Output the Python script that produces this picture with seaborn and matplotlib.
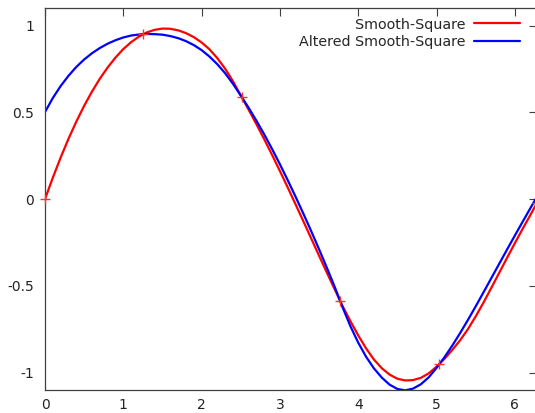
import matplotlib
matplotlib.use("Agg")
import matplotlib.pyplot as plt
from matplotlib.lines import Line2D
import numpy as np
import pandas as pd
import seaborn as sns

# ---- data ----
x_vals = [0.0, 0.1, 0.2, 0.3, 0.4, 0.5, 0.6, 0.7, 0.8, 0.9,
          1.0, 1.1, 1.2, 1.3, 1.4, 1.5, 1.6, 1.7, 1.8, 1.9,
          2.0, 2.1, 2.2, 2.3, 2.4, 2.5, 2.6, 2.7, 2.8, 2.9,
          3.0, 3.1, 3.2, 3.3, 3.4, 3.5, 3.6, 3.7, 3.8, 3.9,
          4.0, 4.1, 4.2, 4.3, 4.4, 4.5, 4.6, 4.7, 4.8, 4.9,
          5.0, 5.1, 5.2, 5.3, 5.4, 5.5, 5.6, 5.7, 5.8, 5.9,
          6.0, 6.1, 6.2, 6.283]
smooth_square = [0.000, 0.124, 0.240, 0.348, 0.447, 0.538, 0.620, 0.694, 0.759, 0.816,
                 0.865, 0.905, 0.937, 0.961, 0.976, 0.983, 0.982, 0.973, 0.957, 0.934,
                 0.903, 0.864, 0.813, 0.752, 0.680, 0.598, 0.516, 0.432, 0.345, 0.255,
                 0.162, 0.067, -0.030, -0.128, -0.227, -0.326, -0.424, -0.520, -0.616, -0.703,
                 -0.785, -0.860, -0.924, -0.974, -1.011, -1.035, -1.045, -1.043, -1.030, -1.004,
                 -0.966, -0.921, -0.870, -0.814, -0.750, -0.676, -0.596, -0.511, -0.425, -0.339,
                 -0.254, -0.171, -0.090, -0.022]
altered = [0.502, 0.583, 0.652, 0.711, 0.762, 0.805, 0.841, 0.871, 0.896, 0.916,
           0.932, 0.943, 0.949, 0.952, 0.951, 0.948, 0.940, 0.928, 0.911, 0.888,
           0.859, 0.822, 0.778, 0.726, 0.665, 0.597, 0.527, 0.452, 0.373, 0.289,
           0.201, 0.109, 0.014, -0.084, -0.185, -0.289, -0.396, -0.506, -0.623, -0.732,
           -0.827, -0.908, -0.975, -1.028, -1.069, -1.094, -1.102, -1.092, -1.067, -1.027,
           -0.973, -0.912, -0.845, -0.773, -0.697, -0.618, -0.537, -0.455, -0.373, -0.291,
           -0.210, -0.130, -0.051, 0.014]
knot_x = [0.0, 1.257, 2.513, 3.770, 5.027, 6.283]
knot_y = [0.0, 0.951, 0.588, -0.588, -0.951, -0.020]
series_names = ["Smooth-Square", "Altered Smooth-Square"]
series_colors = ["#ff0000", "#0000ff"]
x_ticks = [0, 1, 2, 3, 4, 5, 6]
x_tick_labels = ["0", "1", "2", "3", "4", "5", "6"]
y_ticks = [-1, -0.5, 0, 0.5, 1]
y_tick_labels = ["-1", "-0.5", "0", "0.5", "1"]

sns.set_style("white")
plt.rcParams["font.family"] = ["DejaVu Sans"]
plt.rcParams["axes.unicode_minus"] = False

W, H = 535, 413
fig = plt.figure(figsize=(W / 100, H / 100), dpi=100)
left, right, top, bottom = 45, 537, 8.3, 390
ax = fig.add_axes([left / W, (H - bottom) / H, (right - left) / W, (bottom - top) / H])

n = len(x_vals)
df = pd.DataFrame({
    "x": x_vals * 2,
    "y": smooth_square + altered,
    "series": [series_names[0]] * n + [series_names[1]] * n,
})
sns.lineplot(data=df, x="x", y="y", hue="series", palette=series_colors,
             hue_order=series_names, linewidth=1.6, estimator=None, sort=False,
             legend=False, ax=ax)
sns.scatterplot(x=knot_x, y=knot_y, marker="+", color="#ff3030", s=45,
                linewidth=1.0, ax=ax, clip_on=False, zorder=5, legend=False)

ax.set_xlim(0, 2 * np.pi)
ax.set_ylim(-1.1, 1.1)
ax.set_xticks(x_ticks)
ax.set_xticklabels(x_tick_labels)
ax.set_yticks(y_ticks)
ax.set_yticklabels(y_tick_labels)
ax.set_xlabel("")
ax.set_ylabel("")
ax.tick_params(direction="in", length=5.5, width=0.8, color="#404040",
               top=True, right=True, labelsize=10, labelcolor="#222222")
ax.tick_params(axis="y", pad=8)
ax.tick_params(axis="x", pad=6)
for s in ax.spines.values():
    s.set_visible(True)
    s.set_color("#404040")
    s.set_linewidth(0.9)

handles = [Line2D([], [], color=c, linewidth=1.6) for c in series_colors]
ax.legend(handles, series_names, loc="upper right",
          bbox_to_anchor=(520 / W, 1 - 17.5 / H), bbox_transform=fig.transFigure,
          frameon=False, markerfirst=False, handlelength=3.2, handletextpad=0.6,
          borderpad=0, borderaxespad=0, labelspacing=0.25, fontsize=10.3)

fig.savefig("out.png", dpi=100)
